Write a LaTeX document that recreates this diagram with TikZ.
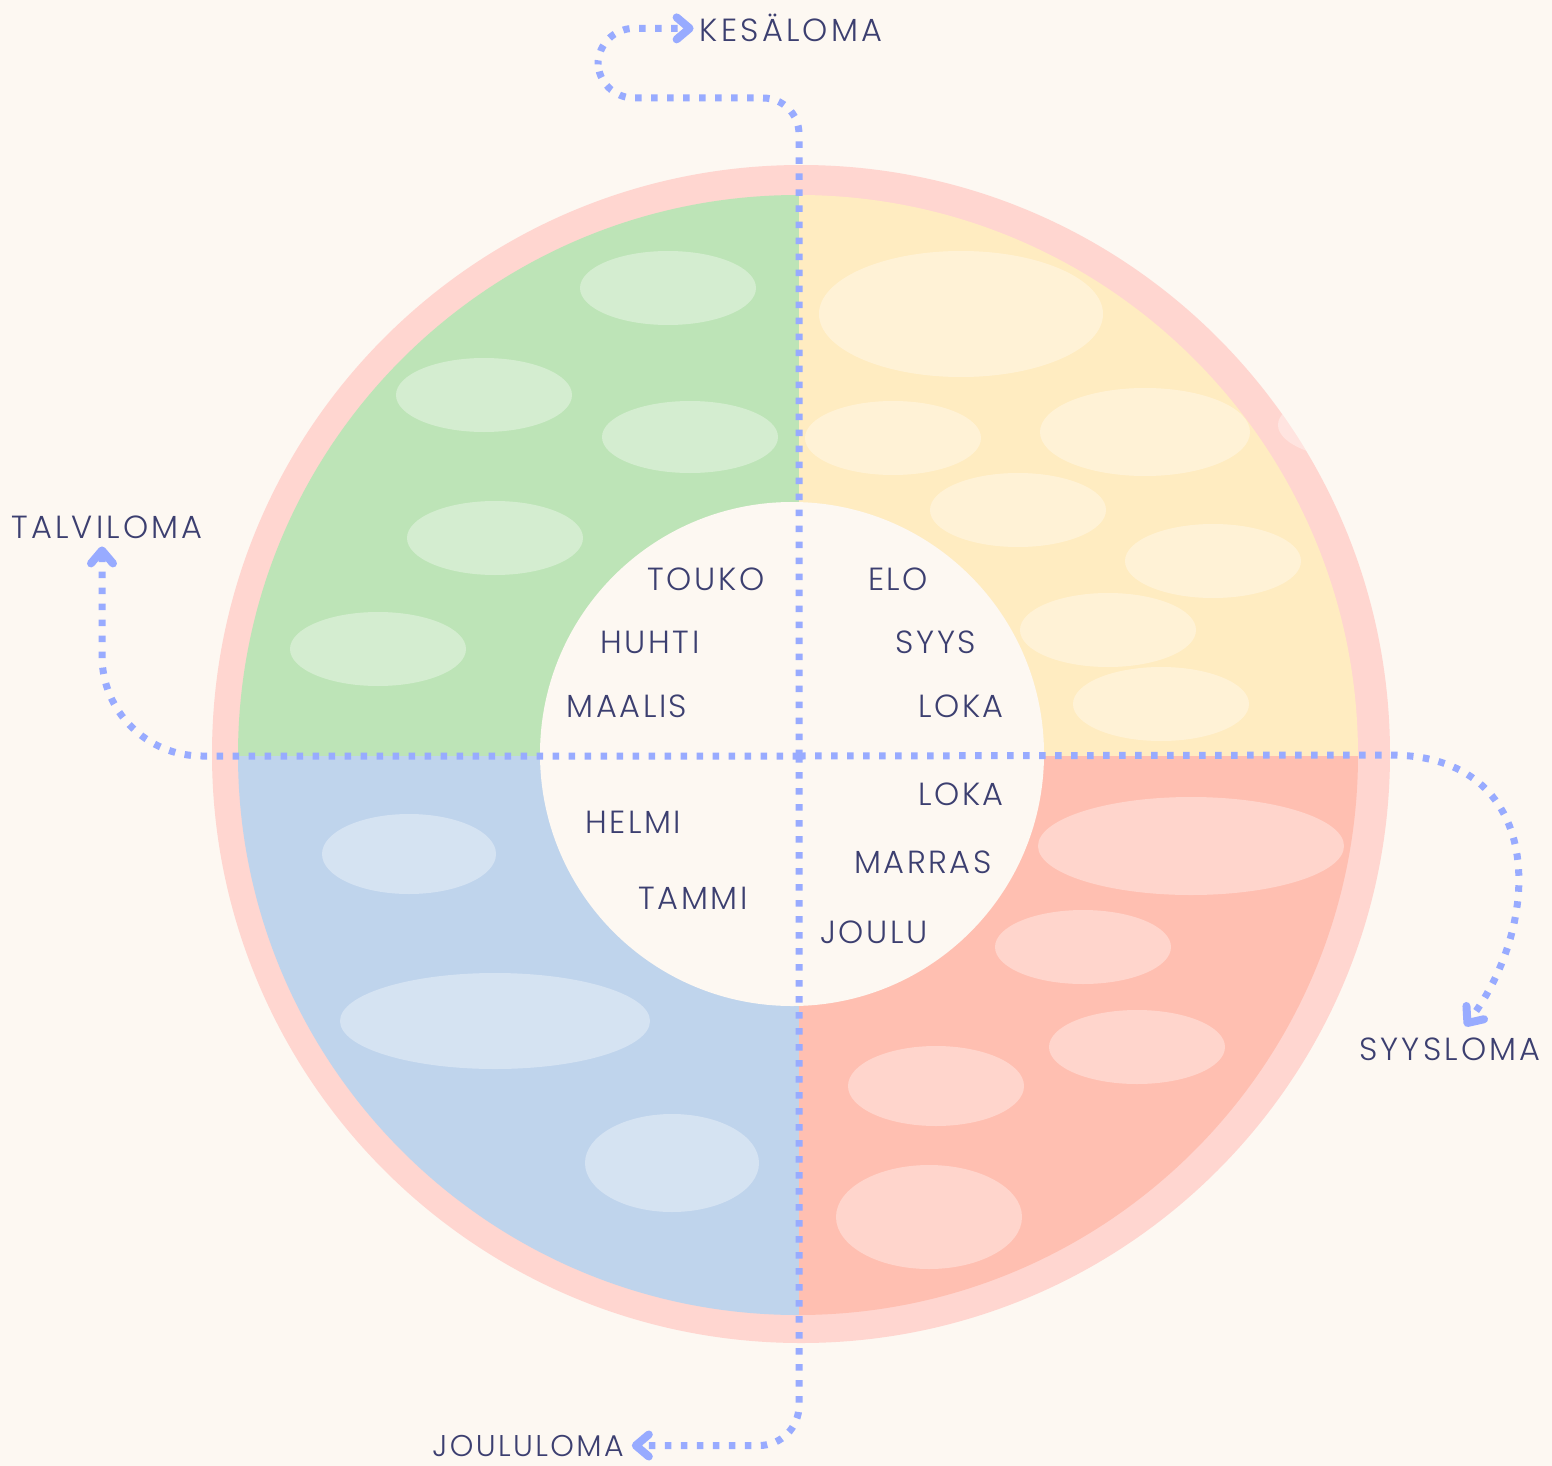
\documentclass[tikz,border=0pt]{standalone}
\usepackage{fontspec}
\newfontfamily\labelfont{Poppins Light}[LetterSpace=8]
\newfontfamily\widefont{Poppins Light}[LetterSpace=10]
\usetikzlibrary{arrows.meta,positioning}

\definecolor{bgcream}{RGB}{253,248,242}
\definecolor{ringpink}{RGB}{255,214,208}
\definecolor{qgreen}{RGB}{189,228,183}
\definecolor{qyellow}{RGB}{255,236,193}
\definecolor{qblue}{RGB}{191,212,236}
\definecolor{qsalmon}{RGB}{255,191,177}
\definecolor{linkblue}{RGB}{152,171,255}
\definecolor{inkblue}{RGB}{60,63,112}

\begin{document}
\begin{tikzpicture}[
  x=1pt,y=-1pt,
  link/.style={draw=linkblue,line width=7pt,dash pattern=on 6.5pt off 9.5pt,
    -{Straight Barb[length=13pt,width=22pt,line width=8pt,round]}},
  month/.style={anchor=base,text=inkblue,inner sep=3pt,
    font=\labelfont\fontsize{32}{38}\selectfont},
  holiday/.style={month,inner sep=2pt,
    font=\widefont\fontsize{32}{38}\selectfont},
  blob/.style={fill=white,fill opacity=0.35}
  ]

  \fill[bgcream] (0,0) rectangle (1552,1466);
  \useasboundingbox (0,0) rectangle (1552,1466);

  \coordinate (hub)  at (799,756);
  \coordinate (disk) at (798,755);

  \fill[ringpink] (801,754) circle[radius=589pt];

  \begin{scope}
    \clip (801,754) circle[radius=589pt];
    \fill[blob] (1372,425) ellipse[x radius=94pt,y radius=36pt];
  \end{scope}

  \begin{scope}
    \clip (disk) circle[radius=560pt];
    \fill[qgreen]  (0,0)     rectangle (hub);
    \fill[qyellow] (799,0)   rectangle (1552,756);
    \fill[qblue]   (0,756)   rectangle (799,1466);
    \fill[qsalmon] (799,756) rectangle (1552,1466);

    % spring
    \fill[blob] (668,288)  ellipse[x radius=88pt,y radius=37pt];
    \fill[blob] (484,395)  ellipse[x radius=88pt,y radius=37pt];
    \fill[blob] (690,437)  ellipse[x radius=88pt,y radius=36pt];
    \fill[blob] (495,538)  ellipse[x radius=88pt,y radius=37pt];
    \fill[blob] (378,649)  ellipse[x radius=88pt,y radius=37pt];
    % summer
    \fill[blob] (961,314)  ellipse[x radius=142pt,y radius=63pt];
    \fill[blob] (893,438)  ellipse[x radius=88pt,y radius=37pt];
    \fill[blob] (1145,432) ellipse[x radius=105pt,y radius=44pt];
    \fill[blob] (1018,510) ellipse[x radius=88pt,y radius=37pt];
    \fill[blob] (1213,561) ellipse[x radius=88pt,y radius=37pt];
    \fill[blob] (1108,630) ellipse[x radius=88pt,y radius=37pt];
    \fill[blob] (1161,704) ellipse[x radius=88pt,y radius=37pt];
    % winter
    \fill[blob] (409,854)  ellipse[x radius=87pt,y radius=40pt];
    \fill[blob] (495,1021) ellipse[x radius=155pt,y radius=48pt];
    \fill[blob] (672,1163) ellipse[x radius=87pt,y radius=49pt];
    % autumn
    \fill[blob] (1191,846) ellipse[x radius=153pt,y radius=49pt];
    \fill[blob] (1083,947) ellipse[x radius=88pt,y radius=37pt];
    \fill[blob] (1137,1047) ellipse[x radius=88pt,y radius=37pt];
    \fill[blob] (936,1086) ellipse[x radius=88pt,y radius=40pt];
    \fill[blob] (929,1217) ellipse[x radius=93pt,y radius=52pt];
  \end{scope}

  \fill[bgcream] (792,754) circle[radius=252pt];

  \node[month] (touko)  at (706,590) {TOUKO};
  \node[month] (huhti)  at (650,653) {HUHTI};
  \node[month] (maalis) at (627,717) {MAALIS};
  \node[month] (elo)    at (898,590) {ELO};
  \node[month] (syys)   at (936,653) {SYYS};
  \node[month] (loka)   at (961,717) {LOKA};
  \node[month] (loka2)  at (961,805) {LOKA};
  \node[month] (helmi)  at (633,833) {HELMI};
  \node[month] (marras) at (923,873) {MARRAS};
  \node[month] (tammi)  at (693,909) {TAMMI};
  \node[month] (joulu)  at (874,943) {JOULU};

  \node[holiday] (kesaloma)  at (791,42)   {KESÄLOMA};
  \node[holiday] (talviloma) at (107,538)  {TALVILOMA};
  \node[holiday] (syysloma)  at (1450,1060) {SYYSLOMA};
  \node[holiday,font=\labelfont\fontsize{30}{36}\selectfont]
    (joululoma) at (528,1456) {JOULULOMA};

  \draw[link,rounded corners=36pt]
    (hub) -- (799,98) -- (598,98) |- ([xshift=-4pt]kesaloma.west);
  \draw[link,rounded corners=100pt,shorten >=6pt]
    (hub) -| ([xshift=-5pt]talviloma.south);
  \draw[link,rounded corners=40pt,shorten >=6pt]
    (hub) |- (joululoma.east);
  \draw[link]
    (hub) -- (1390,755) .. controls (1545,755) and (1545,920) ..
    ([xshift=15pt,yshift=9pt]syysloma.north);
\end{tikzpicture}
\end{document}
